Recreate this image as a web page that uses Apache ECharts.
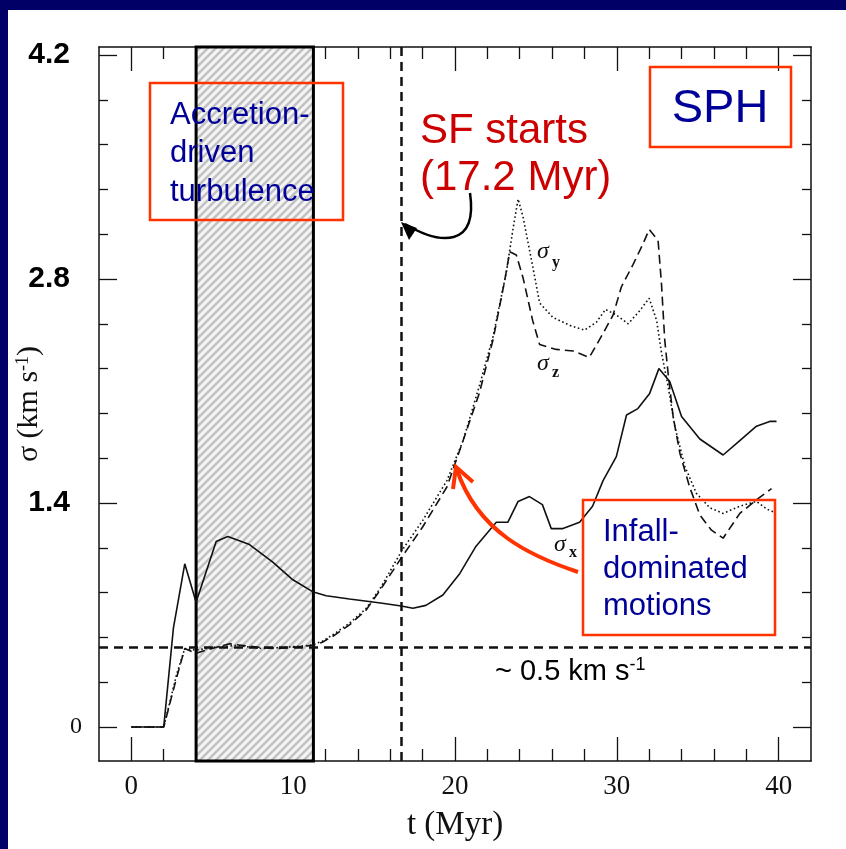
<!DOCTYPE html>
<html><head><meta charset="utf-8">
<script src="https://cdn.jsdelivr.net/npm/echarts@6/dist/echarts.min.js"></script>
<style>html,body{margin:0;padding:0;background:#fff}#c{width:846px;height:849px}</style>
</head><body><div id="c"></div>
<script>
// ---- data ----
const tX = [0, 2, 2.6, 3.3, 4.0, 5.24, 5.96, 7.3, 8.74, 9.98, 11.2, 12.04, 13.48, 15.4, 16.68, 17.4, 18.2, 19.25, 20.3, 21.3, 22.55, 23.27, 23.9, 24.6, 25.4, 25.95, 26.67, 27.7, 28.5, 29.15, 29.97, 30.6, 31.3, 32.03, 32.6, 33.27, 34.0, 35.13, 36.57, 37.6, 38.63, 39.45, 39.87];
const sigmaX = [0, 0, 0.62, 1.02, 0.78, 1.16, 1.19, 1.14, 1.03, 0.92, 0.846, 0.82, 0.80, 0.775, 0.756, 0.742, 0.76, 0.825, 0.96, 1.13, 1.28, 1.28, 1.41, 1.44, 1.39, 1.24, 1.24, 1.28, 1.38, 1.54, 1.69, 1.95, 1.99, 2.085, 2.24, 2.16, 1.94, 1.80, 1.70, 1.79, 1.88, 1.91, 1.91];
const tY = [0, 2, 2.8, 3.3, 4.0, 5.2, 6.5, 8.1, 9.7, 11.0, 11.8, 12.5, 13.5, 14.5, 15.4, 16.7, 18.0, 19.5, 20.5, 21.5, 22.35, 23.17, 23.58, 23.9, 24.2, 24.8, 25.23, 26.05, 27.1, 28.0, 28.74, 29.3, 29.97, 30.7, 31.4, 32.0, 32.46, 32.76, 33.17, 33.58, 34.2, 34.92, 35.75, 36.57, 37.6, 38.63, 39.3, 39.8];
const sigmaY = [0, 0, 0.33, 0.49, 0.48, 0.50, 0.51, 0.49, 0.50, 0.51, 0.535, 0.58, 0.65, 0.74, 0.87, 1.10, 1.29, 1.54, 1.79, 2.13, 2.44, 2.84, 3.11, 3.30, 3.19, 2.88, 2.65, 2.56, 2.51, 2.48, 2.53, 2.61, 2.575, 2.52, 2.60, 2.68, 2.54, 2.34, 2.13, 1.88, 1.63, 1.46, 1.37, 1.335, 1.38, 1.41, 1.36, 1.34];
const tZ = [0, 2, 2.8, 3.3, 4.0, 4.6, 6.06, 7.7, 8.95, 10.2, 11.2, 11.8, 12.5, 13.5, 14.5, 15.4, 16.7, 18.0, 19.5, 20.5, 21.5, 22.35, 23.07, 23.38, 23.79, 24.2, 24.8, 25.23, 26.26, 27.3, 28.3, 29.15, 29.77, 30.28, 31.0, 31.62, 32.0, 32.55, 32.76, 32.96, 33.17, 33.48, 33.9, 34.5, 35.13, 35.85, 36.57, 37.6, 38.63, 39.56];
const sigmaZ = [0, 0, 0.31, 0.49, 0.46, 0.48, 0.52, 0.50, 0.49, 0.50, 0.51, 0.53, 0.57, 0.64, 0.73, 0.86, 1.06, 1.25, 1.50, 1.79, 2.085, 2.42, 2.79, 2.97, 2.95, 2.81, 2.54, 2.39, 2.36, 2.35, 2.31, 2.46, 2.575, 2.75, 2.89, 3.02, 3.11, 3.04, 2.77, 2.42, 2.21, 1.94, 1.71, 1.50, 1.325, 1.23, 1.18, 1.335, 1.42, 1.49];
const xMajorTicks = [0, 10, 20, 30, 40];
const xMinorTicks = [2, 4, 6, 8, 12, 14, 16, 18, 22, 24, 26, 28, 32, 34, 36, 38];
const yMajorTicks = [0, 1.4, 2.8, 4.2];
const yMinorTicks = [0.28, 0.56, 0.84, 1.12, 1.68, 1.96, 2.24, 2.52, 3.08, 3.36, 3.64, 3.92];
const sfStart = 16.7;
const floorLevel = 0.5;
const hatchRange = [4.0, 11.25];

// ---- style helpers ----
const SERIF = '"Liberation Serif", "DejaVu Serif", serif';
const SANS = '"Liberation Sans", Arial, sans-serif';
const INK = '#111';
function hatchCanvas(){
  const c = document.createElement('canvas'); c.width = 8; c.height = 8;
  const g = c.getContext('2d');
  g.fillStyle = '#f5f5f5'; g.fillRect(0,0,8,8);
  g.strokeStyle = '#c2c2c2'; g.lineWidth = 2.6;
  g.beginPath();
  g.moveTo(-2,10); g.lineTo(10,-2);
  g.moveTo(-2,2); g.lineTo(2,-2);
  g.moveTo(6,10); g.lineTo(10,6);
  g.stroke();
  return c;
}
const pairs = (xs, ys) => xs.map((x,i)=>[x, ys[i]]);

const XMIN=-2, XMAX=42, YMIN=-0.2125, YMAX=4.25;
function xAx(pos, ticks, len, showLine, showLabel){
  return {type:'value', position:pos, min:XMIN, max:XMAX, splitLine:{show:false},
    axisLine:{show:showLine, onZero:false, lineStyle:{color:INK, width:1.5}},
    axisTick:{show:true, inside:true, length:len, customValues:ticks, lineStyle:{color:INK, width:1.3}},
    axisLabel:{show:showLabel, customValues:ticks, margin:12, color:INK, fontFamily:SERIF, fontSize:27}};
}
function yAx(pos, ticks, len, showLine, showLabel){
  return {type:'value', position:pos, min:YMIN, max:YMAX, splitLine:{show:false},
    axisLine:{show:showLine, onZero:false, lineStyle:{color:INK, width:1.5}},
    axisTick:{show:true, inside:true, length:len, customValues:ticks, lineStyle:{color:INK, width:1.3}},
    axisLabel:{show:showLabel, customValues:ticks, margin:17,
      formatter: v => v === 0 ? '{o|0}' : '{b|' + v.toFixed(1) + '}',
      rich:{o:{fontFamily:SERIF, fontSize:24, color:INK},
            b:{fontFamily:SANS, fontWeight:'bold', fontSize:30, color:'#000', padding:[0,12,0,0]}}}};
}
const xAxes = [xAx('bottom', xMajorTicks, 24, true, true), xAx('bottom', xMinorTicks, 12, false, false),
               xAx('top', xMajorTicks, 24, true, false), xAx('top', xMinorTicks, 12, false, false)];
xAxes[0].name = 't (Myr)'; xAxes[0].nameLocation = 'middle'; xAxes[0].nameGap = 48; xAxes[0].nameMoveOverlap = false;
xAxes[0].nameTextStyle = {fontFamily:SERIF, fontSize:33, color:INK};
const yAxes = [yAx('left', yMajorTicks, 18, true, true), yAx('left', yMinorTicks, 9, false, false),
               yAx('right', yMajorTicks, 18, true, false), yAx('right', yMinorTicks, 9, false, false)];
yAxes[0].name = '{a|σ (km s}{s|-1}{a|)}'; yAxes[0].nameLocation = 'middle'; yAxes[0].nameGap = 55; yAxes[0].nameMoveOverlap = false;
yAxes[0].nameTextStyle = {rich:{a:{fontFamily:SERIF, fontSize:30, color:INK}, s:{fontFamily:SERIF, fontSize:18, color:INK, verticalAlign:'top', padding:[0,0,12,0]}}};

const dash = {color:INK, width:2.5, type:[9,6]};
const chart = echarts.init(document.getElementById('c'), null, {renderer:'canvas'});
chart.setOption({
  backgroundColor:'#fff',
  animation:false,
  grid:{left:99, right:35, top:47, bottom:88, containLabel:false, outerBoundsMode:'none'},
  xAxis: xAxes,
  yAxis: yAxes,
  series:[
    {type:'line', name:'box', data:[], z:1, silent:true,
     markArea:{silent:true, itemStyle:{color:{image:hatchCanvas(), repeat:'repeat'}, borderColor:'#000', borderWidth:3},
       data:[[{xAxis:hatchRange[0], yAxis:YMIN},{xAxis:hatchRange[1], yAxis:YMAX}]]},
     markLine:{silent:true, symbol:'none', label:{show:false}, lineStyle:dash,
       data:[{xAxis:sfStart},{yAxis:floorLevel}]}},
    {type:'line', name:'σx', data:pairs(tX, sigmaX), showSymbol:false, symbol:'none', z:3,
     lineStyle:{color:INK, width:1.6, type:'solid'}},
    {type:'line', name:'σy', data:pairs(tY, sigmaY), showSymbol:false, symbol:'none', z:3,
     lineStyle:{color:INK, width:1.6, type:[1.6,2.6]}},
    {type:'line', name:'σz', data:pairs(tZ, sigmaZ), showSymbol:false, symbol:'none', z:3,
     lineStyle:{color:INK, width:1.6, type:[9,5]}}
  ],
  graphic:[
    {type:'rect', shape:{x:0,y:0,width:846,height:10}, style:{fill:'#000066'}, z:100},
    {type:'rect', shape:{x:0,y:0,width:8,height:849}, style:{fill:'#000066'}, z:100},
    // Accretion box
    {type:'rect', shape:{x:150,y:83,width:193,height:137}, style:{fill:null, stroke:'#ff3300', lineWidth:2.5}, z:50},
    {type:'text', x:170, y:96, style:{text:'Accretion-\ndriven\nturbulence', fill:'#000099', font:'31px ' + SANS, lineHeight:38.5}, z:51},
    // SF starts
    {type:'text', x:420, y:108, style:{text:'SF starts\n(17.2 Myr)', fill:'#cc0000', font:'42px ' + SANS, lineHeight:47}, z:51},
    {type:'bezierCurve', shape:{x1:470,y1:193,x2:405,y2:224,cpx1:478,cpy1:248,cpx2:440,cpy2:245}, style:{stroke:'#000', lineWidth:2.5, fill:null}, z:51},
    {type:'polygon', shape:{points:[[401,222],[409,240],[417,228]]}, style:{fill:'#000'}, z:52},
    // SPH
    {type:'rect', shape:{x:650,y:67,width:141,height:80}, style:{fill:null, stroke:'#ff3300', lineWidth:2.5}, z:50},
    {type:'text', x:720, y:109, style:{text:'SPH', fill:'#000099', font:'47px ' + SANS, align:'center', verticalAlign:'middle'}, z:51},
    // Infall box
    {type:'rect', shape:{x:583,y:500,width:192,height:135}, style:{fill:null, stroke:'#ff3300', lineWidth:2.5}, z:50},
    {type:'text', x:603, y:514, style:{text:'Infall-\ndominated\nmotions', fill:'#000099', font:'31px ' + SANS, lineHeight:37}, z:51},
    {type:'bezierCurve', shape:{x1:578,y1:572,x2:457,y2:470,cpx1:530,cpy1:556,cpx2:478,cpy2:532}, style:{stroke:'#ff3300', lineWidth:4, fill:null}, z:51},
    {type:'polyline', shape:{points:[[453,489],[456,467],[473,482]]}, style:{stroke:'#ff3300', lineWidth:4, fill:null}, z:52},
    // 0.5 label
    {type:'text', x:495, y:672, style:{text:'{a|~ 0.5 km s}{s|-1}', fill:'#000', verticalAlign:'middle',
       rich:{a:{font:'29px ' + SANS, fill:'#000'}, s:{font:'18px ' + SANS, fill:'#000', padding:[0,0,14,0]}}}, z:51},
    // sigma labels
    {type:'text', x:537, y:252, style:{text:'σ', fill:INK, font:'italic 24px ' + SERIF, verticalAlign:'middle'}, z:51},
    {type:'text', x:552, y:263, style:{text:'y', fill:INK, font:'bold 16px ' + SERIF, verticalAlign:'middle'}, z:51},
    {type:'text', x:537, y:364, style:{text:'σ', fill:INK, font:'italic 24px ' + SERIF, verticalAlign:'middle'}, z:51},
    {type:'text', x:552, y:373, style:{text:'z', fill:INK, font:'bold 16px ' + SERIF, verticalAlign:'middle'}, z:51},
    {type:'text', x:554, y:545, style:{text:'σ', fill:INK, font:'italic 24px ' + SERIF, verticalAlign:'middle'}, z:51},
    {type:'text', x:569, y:553, style:{text:'x', fill:INK, font:'bold 16px ' + SERIF, verticalAlign:'middle'}, z:51}
  ]
});
</script></body></html>
